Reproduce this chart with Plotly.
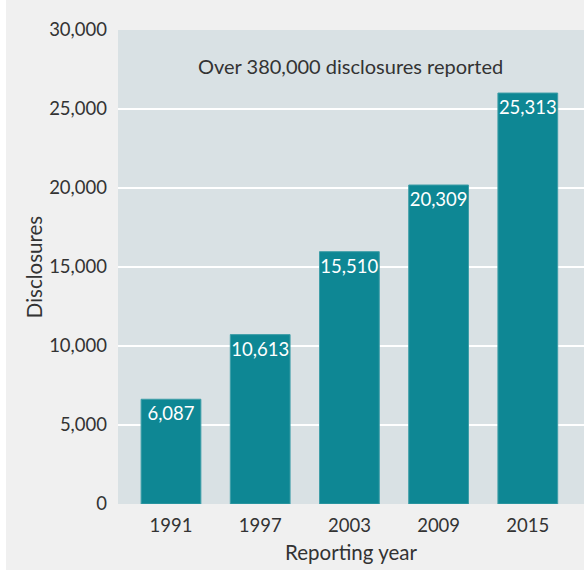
import plotly.graph_objects as go

years = ["1991", "1997", "2003", "2009", "2015"]
bar_heights = [6630, 10720, 15970, 20190, 26010]
bar_labels = ["6,087", "10,613", "15,510", "20,309", "25,313"]
y_ticks = [0, 5000, 10000, 15000, 20000, 25000, 30000]
y_ticklabels = ["0", "5,000", "10,000", "15,000", "20,000", "25,000", "30,000"]

FONT = "Lato, Noto Sans, sans-serif"

fig = go.Figure(go.Bar(
    x=years, y=bar_heights, text=bar_labels,
    textposition="inside", insidetextanchor="end", textangle=0,
    insidetextfont=dict(color="white", size=18.5, family=FONT),
    marker=dict(color="#0e8794", line=dict(color="#3f9ea8", width=1)),
    width=0.67, hoverinfo="skip", cliponaxis=False,
))

fig.update_layout(
    width=584, height=570,
    margin=dict(l=118, r=0, t=30, b=66),
    paper_bgcolor="#f0f0f0", plot_bgcolor="#d9e1e4",
    font=dict(family=FONT, size=18, color="#333333"),
    showlegend=False,
    uniformtext=dict(minsize=18, mode="show"),
    xaxis=dict(type="category", range=[-0.594, 4.63], showgrid=False,
               ticks="", ticklabelstandoff=8,
               title=dict(text="Reporting year", font=dict(size=20.5), standoff=11),
               tickfont=dict(size=18.5), zeroline=False),
    yaxis=dict(range=[0, 30000], tickvals=y_ticks, ticktext=y_ticklabels,
               gridcolor="white", gridwidth=2, zeroline=False, ticks="",
               tickfont=dict(size=18.5), ticklabelstandoff=10,
               title=dict(text="Disclosures", font=dict(size=20.5), standoff=0)),
    shapes=[dict(type="rect", xref="paper", yref="paper",
                 x0=-118/466, x1=-112/466, y0=-66/474, y1=30/474 + 1,
                 fillcolor="white", line=dict(width=0), layer="below")],
    annotations=[dict(text="Over 380,000 disclosures reported", xref="paper", yref="paper",
                      x=0.499, y=0.954, showarrow=False, font=dict(size=20, color="#333333"))],
)

fig.write_html("out.html")
